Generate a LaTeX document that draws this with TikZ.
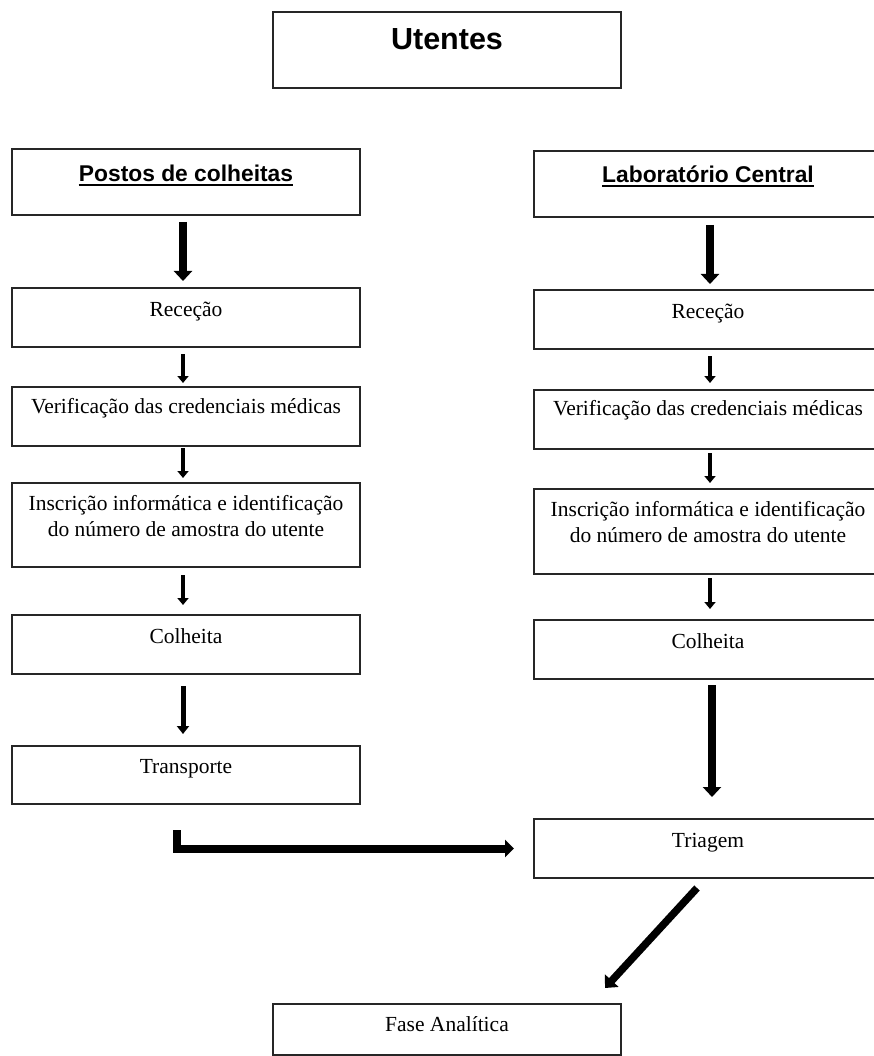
\documentclass[tikz,border=0pt]{standalone}
\usepackage{fontspec}
\setmainfont{Liberation Serif}
\newfontfamily\headfont{Liberation Sans}
\usetikzlibrary{arrows.meta}
\newcommand\boxtextfont{\fontsize{21.5pt}{26pt}\selectfont}
\newcommand\titlefont{\headfont\bfseries\fontsize{22.8pt}{27pt}\selectfont}
\newcommand\topfont{\headfont\bfseries\fontsize{30.5pt}{36pt}\selectfont}
\begin{document}
\begin{tikzpicture}[x=1pt, y=-1pt,
  stepbox/.style={draw=black!85, line width=1.5pt, inner sep=0pt, outer sep=0pt,
                  minimum width=348pt},
  txt/.style={anchor=base, inner sep=0pt, font=\boxtextfont},
  headtxt/.style={anchor=base, inner sep=0pt, font=\titlefont},
  bigarr/.style={line width=7.5pt, -{Triangle[width=18pt,length=10pt]}},
  smallarr/.style={line width=4.5pt, -{Triangle[width=11pt,length=7pt]}},
  midarr/.style={line width=5pt, -{Triangle[width=12pt,length=8pt]}},
  underl/.style={line width=2pt}
]
\useasboundingbox (0,0) rectangle (874,1056);
\fill[white] (0,0) rectangle (874,1056);
\clip (0,0) rectangle (874,1056);

% ---- boxes ----
\node[stepbox, minimum height=76pt] (ute) at (447,50) {};
\node[stepbox, minimum height=66pt] (post) at (186,182) {};
\node[stepbox, minimum height=59pt] (rec1) at (186,317.5) {};
\node[stepbox, minimum height=59pt] (ver1) at (186,416.5) {};
\node[stepbox, minimum height=84pt] (ins1) at (186,525) {};
\node[stepbox, minimum height=59pt] (col1) at (186,644.5) {};
\node[stepbox, minimum height=58pt] (tra1) at (186,775) {};

\node[stepbox, minimum height=66pt] (lab) at (708,184) {};
\node[stepbox, minimum height=59pt] (rec2) at (708,319.5) {};
\node[stepbox, minimum height=59pt] (ver2) at (708,419.5) {};
\node[stepbox, minimum height=85pt] (ins2) at (708,531.5) {};
\node[stepbox, minimum height=59pt] (col2) at (708,649.5) {};
\node[stepbox, minimum height=59pt] (tri) at (708,848.5) {};

\node[stepbox, minimum height=51pt] (fase) at (447,1029.5) {};

% ---- texts ----
\node[anchor=base, inner sep=0pt, font=\topfont] (tute) at (447,50) {Utentes};

\node[headtxt] (tpost) at (186,182) {Postos de colheitas};
\draw[underl] ([yshift=-3pt]tpost.base west) -- ([yshift=-3pt]tpost.base east);
\node[headtxt] (tlab) at (708,183) {Laboratório Central};
\draw[underl] ([yshift=-3pt]tlab.base west) -- ([yshift=-3pt]tlab.base east);

\node[txt] (trec1) at (186,316) {Receção};
\node[txt] (tver1) at (186,413) {Verificação das credenciais médicas};
\node[txt] (tins1a) at (186,510) {Inscrição informática e identificação};
\node[txt] (tins1b) at (186,536) {do número de amostra do utente};
\node[txt] (tcol1) at (186,643) {Colheita};
\node[txt] (ttra1) at (186,773) {Transporte};

\node[txt] (trec2) at (708,318) {Receção};
\node[txt] (tver2) at (708,415) {Verificação das credenciais médicas};
\node[txt] (tins2a) at (708,516) {Inscrição informática e identificação};
\node[txt] (tins2b) at (708,542) {do número de amostra do utente};
\node[txt] (tcol2) at (708,648) {Colheita};
\node[txt] (ttri) at (708,847) {Triagem};

\node[txt] (tfase) at (447,1031) {Fase Analítica};

% ---- connectors, left column ----
\draw[bigarr, shorten <=7pt, shorten >=7pt] ([xshift=-3pt]post.south) -- ([xshift=-3pt]rec1.north);
\draw[smallarr, shorten <=7pt, shorten >=4pt] ([xshift=-3pt]rec1.south) -- ([xshift=-3pt]ver1.north);
\draw[smallarr, shorten <=2pt, shorten >=5pt] ([xshift=-3pt]ver1.south) -- ([xshift=-3pt]ins1.north);
\draw[smallarr, shorten <=8pt, shorten >=10pt] ([xshift=-3pt]ins1.south) -- ([xshift=-3pt]col1.north);
\draw[midarr, shorten <=12pt, shorten >=12pt] ([xshift=-3pt]col1.south) -- ([xshift=-3pt]tra1.north);

% ---- connectors, right column ----
\draw[bigarr, shorten <=8pt, shorten >=6pt] ([xshift=2pt]lab.south) -- ([xshift=2pt]rec2.north);
\draw[smallarr, shorten <=7pt, shorten >=7pt] ([xshift=2pt]rec2.south) -- ([xshift=2pt]ver2.north);
\draw[smallarr, shorten <=4pt, shorten >=6pt] ([xshift=2pt]ver2.south) -- ([xshift=2pt]ins2.north);
\draw[smallarr, shorten <=4pt, shorten >=11pt] ([xshift=2pt]ins2.south) -- ([xshift=2pt]col2.north);
\draw[bigarr, shorten <=6pt, shorten >=22pt] ([xshift=4pt]col2.south) -- ([xshift=4pt]tri.north);

% ---- transport to sorting, sorting to analysis ----
\draw[line width=8pt, line join=miter, -{Triangle[width=17pt,length=9pt]}]
  ([xshift=-9pt,yshift=-26pt]tra1.south) |- ([xshift=-20pt]tri.west);
\draw[bigarr] ([xshift=-11pt,yshift=-10pt]tri.south) -- ([xshift=158pt,yshift=16pt]fase.north);
\end{tikzpicture}
\end{document}
